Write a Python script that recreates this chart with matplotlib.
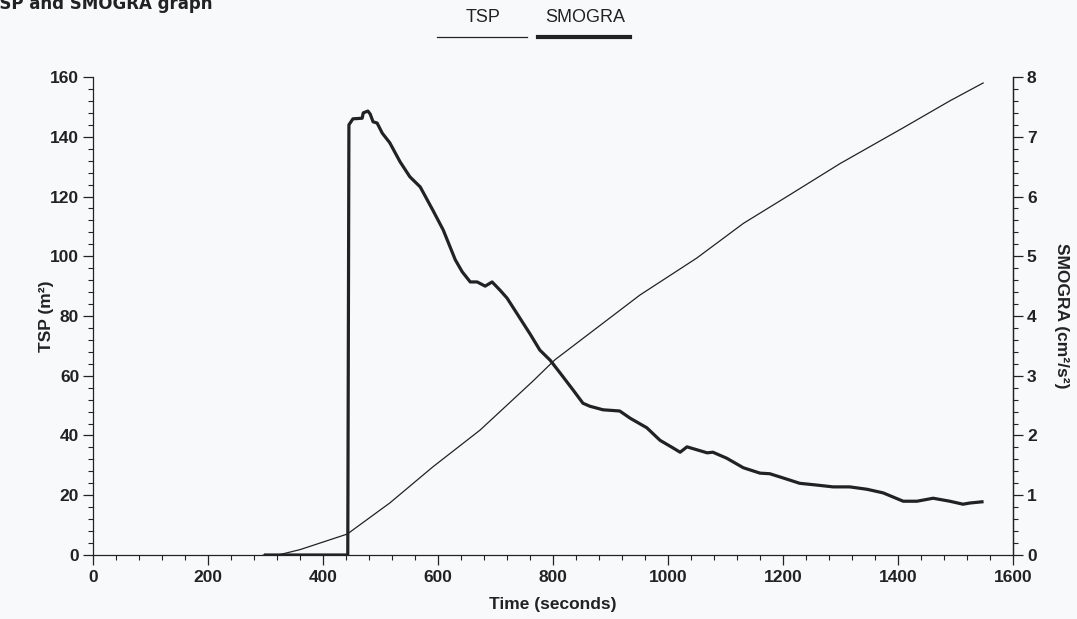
import matplotlib
matplotlib.use("Agg")
import matplotlib.pyplot as plt
from matplotlib.lines import Line2D
from matplotlib.ticker import MultipleLocator
from matplotlib.font_manager import FontProperties

# TSP (left axis, m2)
tsp_time = [296, 322, 360, 390, 442, 516, 591, 673, 765, 803, 951, 1050,
            1131, 1207, 1299, 1409, 1490, 1548]
tsp_val = [0, 0, 1.8, 3.7, 7.0, 17.4, 29.5, 41.8, 58.2, 65.3, 87, 99.4,
           111, 120, 131, 143, 152, 158]

# SMOGRA (right axis, cm2/s2)
smo_time = [300, 443, 445, 452, 468, 470, 478, 482, 487, 494,
            503, 516, 534, 551, 569, 591, 609, 630, 642, 656,
            668, 682, 694, 708, 720, 740, 760, 777, 795, 812,
            835, 852, 864, 887, 916, 934, 963, 986, 1009, 1021,
            1033, 1068, 1078, 1102, 1131, 1160, 1177, 1200, 1229, 1259,
            1287, 1316, 1346, 1374, 1409, 1433, 1461, 1490, 1513, 1525,
            1546]
smo_val = [0, 0, 7.2, 7.3, 7.31, 7.4, 7.43, 7.38, 7.25, 7.23,
           7.06, 6.9, 6.58, 6.33, 6.16, 5.77, 5.44, 4.94, 4.74, 4.57,
           4.57, 4.5, 4.57, 4.43, 4.3, 4.0, 3.7, 3.43, 3.26, 3.05,
           2.76, 2.54, 2.49, 2.43, 2.41, 2.29, 2.13, 1.92, 1.79, 1.72,
           1.81, 1.71, 1.72, 1.62, 1.46, 1.37, 1.36, 1.29, 1.2, 1.17,
           1.14, 1.14, 1.1, 1.04, 0.9, 0.9, 0.95, 0.9, 0.85, 0.87,
           0.89]

bg = "#f8f9fb"
ink = "#222222"
tick_font = {"family": "Liberation Sans", "weight": "bold", "size": 12.5}
label_font = {"family": "Liberation Sans", "weight": "bold", "size": 12.5}

fig = plt.figure(figsize=(10.77, 6.19), dpi=100, facecolor=bg)
ax = fig.add_axes([0.0864, 0.1034, 0.8542, 0.7722], facecolor=bg)
ax2 = ax.twinx()

ax.plot(tsp_time, tsp_val, color=ink, lw=0.9)
ax2.plot(smo_time, smo_val, color=ink, lw=2.3, solid_joinstyle="round")

ax.set_xlim(0, 1600)
ax.set_ylim(0, 160)
ax2.set_ylim(0, 8)

ax.xaxis.set_major_locator(MultipleLocator(200))
ax.xaxis.set_minor_locator(MultipleLocator(40))
ax.yaxis.set_major_locator(MultipleLocator(20))
ax.yaxis.set_minor_locator(MultipleLocator(4))
ax2.yaxis.set_major_locator(MultipleLocator(1))
ax2.yaxis.set_minor_locator(MultipleLocator(0.2))

for a in (ax, ax2):
    a.spines["top"].set_visible(False)
    for s in a.spines.values():
        s.set_color(ink)
        s.set_linewidth(0.9)
    a.tick_params(which="major", length=7, width=0.9, color=ink, direction="out")
    a.tick_params(which="minor", length=3.5, width=0.8, color=ink, direction="out")
ax2.spines["left"].set_visible(False)
ax2.spines["bottom"].set_visible(False)

for lab in ax.get_xticklabels() + ax.get_yticklabels() + ax2.get_yticklabels():
    lab.set_fontproperties(FontProperties(**tick_font))
    lab.set_color(ink)
ax.tick_params(axis="x", pad=4)
ax.tick_params(axis="y", pad=3)
ax2.tick_params(axis="y", pad=3)

ax.set_xlabel("Time (seconds)", fontdict=label_font, color=ink)
ax.set_ylabel("TSP (m²)", fontdict=label_font, color=ink)
ax2.set_ylabel("SMOGRA (cm²/s²)", fontdict=label_font, color=ink,
               rotation=270, va="center")
ax.xaxis.set_label_coords(0.5, -0.088)
ax.yaxis.set_label_coords(-0.042, 0.5)
ax2.yaxis.set_label_coords(1.053, 0.5)

# partially cut-off title at the top left
fig.text(-0.011, 1 - 9 / 619, "TSP and SMOGRA graph", fontsize=12,
         fontweight="bold", family="DejaVu Sans", color=ink, va="baseline")

# legend: labels above line samples
fig.text(483 / 1077, 1 - 18 / 619, "TSP", fontsize=13, family="Liberation Sans",
         color=ink, ha="center", va="center")
fig.text(585 / 1077, 1 - 18 / 619, "SMOGRA", fontsize=13, family="Liberation Sans",
         color=ink, ha="center", va="center")
fig.add_artist(Line2D([437 / 1077, 527 / 1077], [1 - 37 / 619] * 2,
                      color=ink, lw=0.9, transform=fig.transFigure))
fig.add_artist(Line2D([538 / 1077, 630 / 1077], [1 - 37 / 619] * 2,
                      color=ink, lw=3.0, transform=fig.transFigure))

fig.savefig("out.png", dpi=100, facecolor=bg)
